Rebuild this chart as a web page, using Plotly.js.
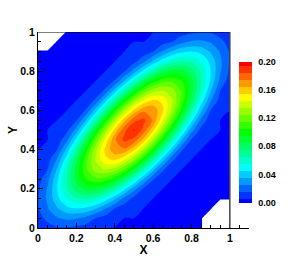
<!DOCTYPE html>
<html>
<head>
<meta charset="utf-8">
<script src="https://cdn.plot.ly/plotly-3.0.1.min.js"></script>
<style>html,body{margin:0;padding:0;background:#fff;}#chart{width:289px;height:257px;}</style>
</head>
<body>
<div id="chart"></div>
<script>
// Grid coordinates (X and Y), step 0.05
var xGrid = [0,0.05,0.1,0.15,0.2,0.25,0.3,0.35,0.4,0.45,0.5,0.55,0.6,0.65,0.7,0.75,0.8,0.85,0.9,0.95,1];
var yGrid = [0,0.05,0.1,0.15,0.2,0.25,0.3,0.35,0.4,0.45,0.5,0.55,0.6,0.65,0.7,0.75,0.8,0.85,0.9,0.95,1];

// Contoured values, one row per Y (bottom to top); null = blanked (white) area
var zGrid = [
 [.009,.012,.014,.014,.013,.010,.008,.006,.005,.005,.005,.005,.005,.005,.005,.005,.005,.005,null,null,null],
 [.012,.017,.024,.027,.026,.022,.015,.011,.007,.005,.005,.005,.005,.005,.005,.005,.005,.005,null,null,null],
 [.014,.024,.034,.042,.045,.043,.036,.026,.015,.009,.006,.005,.005,.005,.005,.005,.005,.005,.005,null,null],
 [.014,.027,.042,.055,.064,.066,.062,.051,.037,.022,.012,.007,.005,.005,.005,.005,.005,.005,.005,.005,.005],
 [.013,.026,.045,.064,.080,.089,.089,.082,.067,.048,.029,.014,.007,.005,.005,.005,.005,.005,.005,.005,.005],
 [.010,.022,.043,.066,.089,.105,.113,.111,.100,.081,.058,.035,.016,.008,.005,.005,.005,.005,.005,.005,.005],
 [.008,.015,.036,.062,.089,.113,.130,.136,.131,.116,.092,.065,.039,.017,.008,.005,.005,.005,.005,.005,.005],
 [.006,.011,.026,.051,.082,.111,.136,.153,.157,.147,.127,.099,.069,.040,.017,.008,.005,.005,.005,.005,.005],
 [.005,.007,.015,.037,.067,.100,.131,.157,.172,.173,.158,.133,.102,.069,.039,.016,.007,.005,.005,.005,.005],
 [.005,.005,.009,.022,.048,.081,.116,.147,.173,.188,.182,.162,.133,.099,.065,.035,.014,.007,.005,.005,.005],
 [.005,.005,.006,.012,.029,.058,.092,.127,.158,.182,.196,.182,.158,.127,.092,.058,.029,.012,.006,.005,.005],
 [.005,.005,.005,.007,.014,.035,.065,.099,.133,.162,.182,.188,.173,.147,.116,.081,.048,.022,.009,.005,.005],
 [.005,.005,.005,.005,.007,.016,.039,.069,.102,.133,.158,.173,.172,.157,.131,.100,.067,.037,.015,.007,.005],
 [.005,.005,.005,.005,.005,.008,.017,.040,.069,.099,.127,.147,.157,.153,.136,.111,.082,.051,.026,.011,.006],
 [.005,.005,.005,.005,.005,.005,.008,.017,.039,.065,.092,.116,.131,.136,.130,.113,.089,.062,.036,.015,.008],
 [.005,.005,.005,.005,.005,.005,.005,.008,.016,.035,.058,.081,.100,.111,.113,.105,.089,.066,.043,.022,.010],
 [.005,.005,.005,.005,.005,.005,.005,.005,.007,.014,.029,.048,.067,.082,.089,.089,.080,.064,.045,.026,.013],
 [.005,.005,.005,.005,.005,.005,.005,.005,.005,.007,.012,.022,.037,.051,.062,.066,.064,.055,.042,.027,.014],
 [.005,.005,.005,.005,.005,.005,.005,.005,.005,.005,.006,.009,.015,.026,.036,.043,.045,.042,.034,.024,.014],
 [null,null,.005,.005,.005,.005,.005,.005,.005,.005,.005,.005,.007,.011,.015,.022,.026,.027,.024,.017,.012],
 [null,null,null,.005,.005,.005,.005,.005,.005,.005,.005,.005,.005,.006,.008,.010,.013,.014,.014,.012,.009]
];

// Colour-bar tick values and labels
var cbTickVals = [0, 0.04, 0.08, 0.12, 0.16, 0.20];
var cbTickText = ['0.00', '0.04', '0.08', '0.12', '0.16', '0.20'];

var rainbow = [
  [0, 'rgb(0,0,255)'],
  [0.25, 'rgb(0,255,255)'],
  [0.5, 'rgb(0,255,0)'],
  [0.75, 'rgb(255,255,0)'],
  [1, 'rgb(255,0,0)']
];

var xMax = xGrid[xGrid.length - 1];
var yMax = yGrid[yGrid.length - 1];
var FONT = 'Liberation Sans, Arial, Helvetica, sans-serif';

var trace = {
  type: 'contour',
  x: xGrid,
  y: yGrid,
  z: zGrid,
  connectgaps: false,
  colorscale: rainbow,
  autocontour: false,
  contours: {start: 0.005, end: 0.195, size: 0.01, coloring: 'fill', showlines: false},
  line: {width: 0},
  hoverinfo: 'skip',
  colorbar: {
    x: 0.954, xanchor: 'left', xpad: 0,
    y: 0.489, yanchor: 'middle', ypad: 0,
    len: 0.719, lenmode: 'fraction',
    thickness: 13,
    outlinewidth: 0,
    tickmode: 'array', tickvals: cbTickVals, ticktext: cbTickText,
    ticks: 'outside', ticklen: 5, tickcolor: 'rgba(0,0,0,0)',
    tickfont: {family: FONT, size: 9, color: '#000', weight: 'bold'}
  }
};

var layout = {
  width: 289, height: 257,
  margin: {l: 38, r: 34, t: 32, b: 29, pad: 0},
  paper_bgcolor: '#fff', plot_bgcolor: '#fff',
  showlegend: false,
  font: {family: FONT, color: '#000'},
  xaxis: {
    range: [0, 1.1],
    tickmode: 'linear', tick0: 0, dtick: 0.2,
    ticks: 'inside', ticklen: 5, tickwidth: 1, tickcolor: '#000',
    minor: {dtick: 0.05, tick0: 0, ticks: 'inside', ticklen: 3, tickwidth: 1, tickcolor: '#000'},
    showline: true, linecolor: '#000', linewidth: 1,
    showgrid: false, zeroline: false,
    tickfont: {family: FONT, size: 10.5, color: '#000', weight: 'bold'},
    title: {text: 'X', font: {family: FONT, size: 12, color: '#000', weight: 'bold'}, standoff: 2}
  },
  yaxis: {
    range: [0, 1],
    tickmode: 'linear', tick0: 0, dtick: 0.2,
    ticks: 'inside', ticklen: 5, tickwidth: 1, tickcolor: '#000',
    minor: {dtick: 0.05, tick0: 0, ticks: 'inside', ticklen: 3, tickwidth: 1, tickcolor: '#000'},
    showline: true, linecolor: '#000', linewidth: 1,
    showgrid: false, zeroline: false,
    tickfont: {family: FONT, size: 10.5, color: '#000', weight: 'bold'},
    title: {text: 'Y', font: {family: FONT, size: 12, color: '#000', weight: 'bold'}, standoff: 0}
  },
  shapes: [
    {type: 'line', xref: 'x', yref: 'y', x0: xGrid[0], x1: xMax, y0: yMax, y1: yMax, line: {color: '#000', width: 1}},
    {type: 'line', xref: 'x', yref: 'y', x0: xMax, x1: xMax, y0: yGrid[0], y1: yMax, line: {color: '#444', width: 1.5}}
  ]
};

Plotly.newPlot('chart', [trace], layout, {displayModeBar: false, staticPlot: true});
</script>
</body>
</html>
